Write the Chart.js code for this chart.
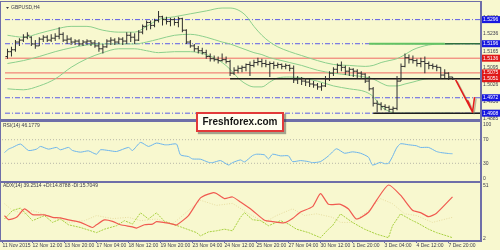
<!DOCTYPE html>
<html lang="en">
<head>
<meta charset="utf-8">
<title>GBPUSD,H4</title>
<script src="https://cdn.jsdelivr.net/npm/chart.js@4.4.1/dist/chart.umd.min.js"></script>
<style>
  html, body { margin: 0; padding: 0; background: #f8f8cf; }
  #panel { position: relative; width: 500px; height: 250px; overflow: hidden; background: #f8f8cf; }
  #panel canvas { position: absolute; left: 0; top: 0; }
  .edge { position: absolute; background: #6e6ea8; }
  #brand {
    position: absolute; left: 196px; top: 112px; width: 84px; height: 16px;
    border: 2px solid #e23a3a; background: #fffff0;
    box-shadow: 2px 2px 1px rgba(60, 60, 60, 0.45);
    font: bold 10px "Liberation Sans", Arial, sans-serif; color: #151515;
    text-align: center; line-height: 16px;
  }
</style>
</head>
<body>
<div id="panel">
  <canvas id="priceChart" width="500" height="250"></canvas>
  <canvas id="rsiChart" width="500" height="250"></canvas>
  <canvas id="adxChart" width="500" height="250"></canvas>
  <div class="edge" style="left:0;top:1px;width:482px;height:1px"></div>
  <div class="edge" style="left:0;top:1px;width:1px;height:241px"></div>
  <div class="edge" style="left:480px;top:1px;width:2px;height:241px"></div>
  <div class="edge" style="left:0;top:119px;width:482px;height:3px"></div>
  <div class="edge" style="left:0;top:181px;width:482px;height:2px"></div>
  <div class="edge" style="left:0;top:240px;width:482px;height:2px"></div>
  <div id="brand">Freshforex.com</div>
</div>
<script>
// --- Eje de tiempo (índice de vela H4) ---
const timeTickIdx = [-0.5, 7, 15, 23, 31, 39, 47, 55, 63, 71, 79, 87, 95, 103, 111];
const timeTickLabels = ["11 Nov 2015", "12 Nov 12:00", "13 Nov 20:00", "17 Nov 04:00", "18 Nov 12:00",
  "19 Nov 20:00", "23 Nov 04:00", "24 Nov 12:00", "25 Nov 20:00", "27 Nov 04:00", "30 Nov 12:00",
  "1 Dec 20:00", "3 Dec 04:00", "4 Dec 12:00", "7 Dec 20:00"];

// --- Velas OHLC ---
const opens = [1.5143,1.5163,1.5171,1.5203,1.5211,1.5223,1.5223,1.5195,1.5187,1.5215,
  1.5223,1.5211,1.5219,1.5227,1.5235,1.5211,1.5215,1.5203,1.5207,1.5195,
  1.5203,1.5207,1.5199,1.5187,1.5175,1.5183,1.5207,1.5211,1.5203,1.5215,
  1.5207,1.5231,1.5223,1.5211,1.5244,1.5268,1.5284,1.5272,1.5292,1.5308,
  1.5296,1.5288,1.5296,1.5284,1.5300,1.5252,1.5203,1.5187,1.5175,1.5167,
  1.5159,1.5143,1.5134,1.5130,1.5126,1.5130,1.5122,1.5074,1.5086,1.5094,
  1.5098,1.5110,1.5106,1.5118,1.5122,1.5114,1.5110,1.5114,1.5106,1.5110,
  1.5102,1.5106,1.5094,1.5046,1.5050,1.5041,1.5037,1.5029,1.5025,1.5017,
  1.5021,1.5050,1.5074,1.5090,1.5106,1.5098,1.5082,1.5090,1.5082,1.5074,
  1.5070,1.5041,1.5009,1.4949,1.4945,1.4936,1.4932,1.4924,1.4928,1.5041,
  1.5102,1.5138,1.5130,1.5126,1.5114,1.5122,1.5114,1.5106,1.5102,1.5098,
  1.5066,1.5074,1.5058];
const highs = [1.5175,1.5183,1.5211,1.5219,1.5235,1.5244,1.5227,1.5211,1.5223,1.5231,
  1.5231,1.5235,1.5239,1.5264,1.5244,1.5231,1.5223,1.5215,1.5215,1.5211,
  1.5215,1.5211,1.5211,1.5203,1.5195,1.5215,1.5223,1.5219,1.5223,1.5223,
  1.5244,1.5244,1.5239,1.5252,1.5276,1.5292,1.5292,1.5300,1.5332,1.5312,
  1.5308,1.5304,1.5304,1.5308,1.5304,1.5256,1.5211,1.5195,1.5187,1.5179,
  1.5171,1.5155,1.5147,1.5143,1.5155,1.5143,1.5130,1.5098,1.5106,1.5106,
  1.5114,1.5122,1.5130,1.5138,1.5134,1.5130,1.5122,1.5122,1.5118,1.5114,
  1.5114,1.5110,1.5106,1.5062,1.5058,1.5054,1.5050,1.5041,1.5033,1.5033,
  1.5062,1.5082,1.5098,1.5114,1.5122,1.5106,1.5098,1.5094,1.5090,1.5082,
  1.5074,1.5062,1.5017,1.4961,1.4953,1.4945,1.4940,1.4936,1.5062,1.5114,
  1.5155,1.5151,1.5147,1.5134,1.5138,1.5143,1.5122,1.5114,1.5110,1.5098,
  1.5090,1.5078,1.5058];
const lows = [1.5134,1.5143,1.5163,1.5187,1.5203,1.5215,1.5187,1.5175,1.5187,1.5203,
  1.5203,1.5203,1.5207,1.5215,1.5203,1.5195,1.5191,1.5191,1.5187,1.5187,
  1.5191,1.5187,1.5179,1.5163,1.5155,1.5179,1.5191,1.5191,1.5195,1.5191,
  1.5195,1.5203,1.5195,1.5207,1.5235,1.5252,1.5256,1.5264,1.5284,1.5272,
  1.5276,1.5268,1.5272,1.5264,1.5244,1.5195,1.5179,1.5163,1.5155,1.5151,
  1.5134,1.5122,1.5122,1.5114,1.5122,1.5114,1.5062,1.5066,1.5074,1.5078,
  1.5082,1.5062,1.5098,1.5106,1.5098,1.5098,1.5058,1.5090,1.5094,1.5090,
  1.5090,1.5082,1.5033,1.5029,1.5025,1.5021,1.5017,1.5013,1.5005,1.5001,
  1.5017,1.5041,1.5062,1.5074,1.5082,1.5066,1.5062,1.5058,1.5054,1.5050,
  1.5033,1.5001,1.4936,1.4912,1.4920,1.4920,1.4912,1.4908,1.4920,1.5041,
  1.5098,1.5114,1.5114,1.5102,1.5098,1.5074,1.5090,1.5090,1.5082,1.5050,
  1.5054,1.5046,1.5046];
const closes = [1.5163,1.5171,1.5203,1.5211,1.5223,1.5231,1.5195,1.5187,1.5215,1.5223,
  1.5211,1.5219,1.5227,1.5235,1.5211,1.5215,1.5203,1.5207,1.5195,1.5203,
  1.5207,1.5199,1.5187,1.5175,1.5183,1.5207,1.5211,1.5203,1.5215,1.5207,
  1.5231,1.5223,1.5211,1.5244,1.5268,1.5284,1.5272,1.5292,1.5308,1.5296,
  1.5288,1.5296,1.5284,1.5300,1.5252,1.5203,1.5187,1.5175,1.5167,1.5159,
  1.5143,1.5134,1.5130,1.5126,1.5130,1.5122,1.5074,1.5086,1.5094,1.5098,
  1.5110,1.5106,1.5118,1.5122,1.5114,1.5110,1.5114,1.5106,1.5110,1.5102,
  1.5106,1.5094,1.5046,1.5050,1.5041,1.5037,1.5029,1.5025,1.5017,1.5021,
  1.5050,1.5074,1.5090,1.5106,1.5098,1.5082,1.5090,1.5082,1.5074,1.5070,
  1.5041,1.5009,1.4949,1.4945,1.4936,1.4932,1.4924,1.4928,1.5041,1.5102,
  1.5138,1.5130,1.5126,1.5114,1.5122,1.5114,1.5106,1.5102,1.5098,1.5066,
  1.5074,1.5058,1.5050];

// --- Bandas de Bollinger (leídas cada pocas velas) ---
const bbIdx = [0,4,8,12,16,20,24,28,32,35,38,42,46,50,54,56,58,60,62,64,66,68,71,74,78,82,86,90,92,94,96,98,100,102,104,106,109,112];
const bbUpper = [1.5231,1.5223,1.5239,1.5256,1.5268,1.5268,1.5252,1.5244,1.5244,1.5268,
  1.5296,1.5308,1.5320,1.5332,1.5344,1.5344,1.5336,1.5312,1.5268,1.5231,
  1.5203,1.5183,1.5163,1.5147,1.5126,1.5110,1.5106,1.5102,1.5106,1.5118,
  1.5126,1.5134,1.5151,1.5171,1.5183,1.5191,1.5195,1.5195];
const bbMiddle = [1.5114,1.5126,1.5143,1.5163,1.5179,1.5191,1.5195,1.5195,1.5195,1.5203,
  1.5215,1.5231,1.5235,1.5223,1.5203,1.5195,1.5183,1.5171,1.5159,1.5151,
  1.5138,1.5130,1.5118,1.5106,1.5086,1.5074,1.5066,1.5058,1.5050,1.5033,
  1.5021,1.5021,1.5029,1.5037,1.5046,1.5051,1.5051,1.5051];
const bbLower = [1.5009,1.5005,1.5021,1.5050,1.5098,1.5134,1.5159,1.5175,1.5175,1.5167,
  1.5159,1.5163,1.5163,1.5151,1.5118,1.5090,1.5054,1.5029,1.5017,1.5017,
  1.5037,1.5054,1.5058,1.5054,1.5041,1.5021,1.5009,1.4997,1.4977,1.4936,
  1.4916,1.4908,1.4908,1.4908,1.4908,1.4908,1.4908,1.4908];

// --- Niveles y escala de precio ---
const priceTicks = [1.5306, 1.5236, 1.5165, 1.5095, 1.5026, 1.4956, 1.4885];
const blueLevels = [1.5296, 1.5196, 1.4972, 1.4908];
const redLevels = [1.5136, 1.5075, 1.5051];
const blackLevels = [1.5051, 1.4908];
const blackFrom = [56, 92];
const greenLevel = 1.5196;
const greenFrom = 91;
const greenTo = 110;
const arrowFrom = [112.75, 1.5046];
const arrowTo = [117, 1.4912];

// --- RSI(14) ---
const rsiIdx = [0,1,2,4,6,8,9,11,13,14,16,17,19,21,23,24,26,28,31,32,34,36,38,40,41,43,44,46,47,49,
  51,52,54,56,57,59,60,62,63,65,66,67,69,71,72,74,76,77,79,81,83,85,87,89,91,92,94,95,96,97,
  98,99,101,103,104,106,108,109,111,112];
const rsiVal = [48.3,54,56.9,62.6,51.7,54,58.6,54,56.9,52.9,56.9,51.7,48.9,51.1,45.4,52.9,51.7,50,56.9,51.7,
  65.4,58.6,64.3,61.4,61.4,62.6,44.3,41.4,37.4,36.9,31.7,31.1,34.6,27.1,31.1,35.7,32.3,43.1,45.4,44.3,
  37.4,45.4,42.6,42.6,32.9,34.6,32.9,31.1,32.9,42.6,54.6,47.1,49.4,47.1,40.3,27.1,31.7,29.4,30,41.4,
  55.7,63.1,61.4,59.7,56.9,56.9,50,48.3,46.6,46.2];
const rsiLevels = [70, 30];
const rsiTicks = [100, 70, 30, 0];

// --- ADX(14) ---
const adxIdx = [0,1,3,5,7,10,12,14,16,19,22,23,25,27,29,32,33,35,37,38,40,42,43,46,49,52,53,55,57,59,
  62,65,67,70,72,74,77,79,81,84,86,88,91,93,96,99,102,104,106,108,112];
const adxVal = [23.5,20,22,29.2,24.3,24.1,22,21.5,19.8,17.7,13.4,15.7,19.8,18.6,15.7,14,12.9,15.7,16.3,18.3,
  17.5,16.3,15.5,23.5,38.4,42.7,42.1,37.8,39.2,34.9,27.8,19.5,18.4,17.4,21,26.5,31,42.1,33,33,
  29,20.6,26.3,36.4,49.3,40.7,28,26,22.6,25.5,39.3];
const pdiIdx = [0,2,4,7,10,12,14,16,19,23,25,28,30,32,34,36,38,40,42,44,48,49,51,53,55,57,59,60,62,64,
  66,69,71,73,76,79,81,82,84,87,90,93,96,97,99,102,103,106,108,112];
const pdiVal = [20.6,27.8,29.8,19.2,23.5,17.7,20.6,15.7,13.4,9.1,12,14.9,19.2,16.3,25.8,20.6,25.8,18.6,16.3,14,
  9.1,6.3,9.7,10.6,12,10.6,22,26,20,19.2,14.9,19.2,16.3,12,9.1,4.8,12,14.9,24.9,17.7,
  12,7.8,4.8,14.9,24.9,19.2,17.7,12,9.1,4.8];
const mdiIdx = [0,2,5,7,12,16,20,23,27,31,34,38,42,46,49,53,57,61,65,68,72,75,78,82,84,87,91,94,97,100,103,107,112];
const mdiVal = [33.5,27.8,25,27.8,22,17.7,19.2,23.5,20.9,22,19.2,20.6,16.3,27.8,36.4,32.1,33.8,25.2,17.7,23.5,
  29.2,23.5,25,22,17.7,17.7,27.8,37.8,33.5,25,23.5,17.7,22];
const adxTicks = [51, 2];

// Rango del eje X compartido por los tres paneles
const X_MIN = -0.625;
const X_MAX = 118.875;

Chart.defaults.font.family = "'Liberation Sans', Arial, sans-serif";
const AXIS_TEXT = "#3c3c4c";

const toPoints = (xs, ys) => xs.map((x, k) => ({ x: x, y: ys[k] }));

function lineSet(points, color, width, dash, order, extra) {
  return Object.assign({
    type: "line", data: points, borderColor: color, borderWidth: width,
    borderDash: dash || [], pointRadius: 0, fill: false, order: order,
  }, extra || {});
}

function levelColor(v) {
  if (blueLevels.includes(v)) return "#1818e0";
  if (redLevels.includes(v)) return "#e01818";
  return null;
}

/**Texto del panel arriba a la izquierda*/
const panelLabel = {
  id: "panelLabel",
  afterDraw(chart, args, opts) {
    const { ctx, chartArea } = chart;
    ctx.save();
    ctx.font = "5px 'Liberation Sans', Arial, sans-serif";
    ctx.fillStyle = "#3a3a4a";
    ctx.textBaseline = "middle";
    ctx.fillText(opts.text, chartArea.left + opts.dx, chartArea.top + opts.dy);
    if (opts.marker) {
      ctx.beginPath();
      ctx.moveTo(chartArea.left + 1, chartArea.top + 2);
      ctx.lineTo(chartArea.left + 4, chartArea.top + 2);
      ctx.lineTo(chartArea.left + 2.5, chartArea.top + 4);
      ctx.closePath();
      ctx.fill();
    }
    ctx.restore();
  },
};

/**En las subventanas el valor máximo y mínimo se escriben hacia dentro (como MT4)*/
const insetEdgeLabels = {
  id: "insetEdgeLabels",
  beforeDraw(chart) {
    const scale = chart.scales.y;
    scale.getLabelItems(chart.chartArea).forEach((item) => {
      const v = Number(item.label);
      if (v === scale.max) item.options.textBaseline = "top";
      if (v === scale.min) item.options.textBaseline = "bottom";
    });
  },
};

/**Flecha roja de proyección*/
const trendArrow = {
  id: "trendArrow",
  afterDatasetsDraw(chart) {
    const { ctx, scales } = chart;
    const x1 = scales.x.getPixelForValue(arrowFrom[0]);
    const y1 = scales.y.getPixelForValue(arrowFrom[1]);
    const x2 = scales.x.getPixelForValue(arrowTo[0]);
    const y2 = scales.y.getPixelForValue(arrowTo[1]);
    const draw = (dx, dy, color) => {
      ctx.strokeStyle = color;
      ctx.beginPath();
      ctx.moveTo(x1 + dx, y1 + dy);
      ctx.lineTo(x2 + dx, y2 + dy);
      ctx.moveTo(x2 - 5 + dx, y2 - 12 + dy);
      ctx.lineTo(x2 + dx, y2 + dy);
      ctx.lineTo(x2 + 2 + dx, y2 - 15 + dy);
      ctx.stroke();
    };
    ctx.save();
    ctx.lineWidth = 1.5;
    ctx.lineJoin = "round";
    draw(1.5, 1.5, "rgba(110,110,80,0.45)");
    draw(0, 0, "#e41c1c");
    ctx.restore();
  },
};

function baseOptions(padding, label) {
  return {
    responsive: false,
    animation: false,
    events: [],
    devicePixelRatio: 1,
    layout: { padding: padding },
    plugins: { legend: { display: false }, tooltip: { enabled: false }, panelLabel: label },
  };
}

function fixRightAxis(scale) {
  scale.width = 20;
  scale.paddingTop = 0;
  scale.paddingBottom = 0;
}

// ===== Panel de precio =====
const priceSets = [
  ...blueLevels.map((p) => lineSet([{ x: X_MIN, y: p }, { x: X_MAX, y: p }], "#5c5ce6", 1, [5, 2, 1, 2], 6)),
  ...redLevels.map((p) => lineSet([{ x: X_MIN, y: p }, { x: X_MAX, y: p }], "#f06a64", 1, null, 5)),
  lineSet(toPoints(bbIdx, bbUpper), "#8ccf8c", 1, null, 3, { cubicInterpolationMode: "monotone" }),
  lineSet(toPoints(bbIdx, bbMiddle), "#8ccf8c", 1, null, 3, { cubicInterpolationMode: "monotone" }),
  lineSet(toPoints(bbIdx, bbLower), "#8ccf8c", 1, null, 3, { cubicInterpolationMode: "monotone" }),
  ...blackLevels.map((p, k) => lineSet([{ x: blackFrom[k], y: p }, { x: X_MAX, y: p }], "#1e1e1e", 1.5, null, 2)),
  lineSet([{ x: greenFrom, y: greenLevel }, { x: greenTo, y: greenLevel }], "#62c262", 2, null, 2),
  lineSet([{ x: greenTo, y: greenLevel }, { x: X_MAX, y: greenLevel }], "#2f6f3f", 1.5, null, 2),
  {
    type: "bar",
    data: highs.map((h, i) => ({ x: i, y: [lows[i], h] })),
    backgroundColor: "#2f2f2f",
    barThickness: 1,
    inflateAmount: 0,
    grouped: false,
    order: 1,
  },
  lineSet(opens.map((o, i) => ({ x: i - 0.25, y: o })), "#2f2f2f", 0, null, 1, {
    showLine: false, pointStyle: "line", pointRadius: 1, pointBorderWidth: 1, pointBorderColor: "#2f2f2f",
  }),
  lineSet(closes.map((c, i) => ({ x: i + 0.25, y: c })), "#2f2f2f", 0, null, 1, {
    showLine: false, pointStyle: "line", pointRadius: 1, pointBorderWidth: 1, pointBorderColor: "#2f2f2f",
  }),
];

new Chart(document.getElementById("priceChart"), {
  type: "line",
  data: { datasets: priceSets },
  options: Object.assign(baseOptions({ left: 2, top: 2, right: 0, bottom: 130 },
    { text: "GBPUSD,H4", dx: 6, dy: 3, marker: true }), {
    scales: {
      x: { type: "linear", min: X_MIN, max: X_MAX, offset: false, display: false },
      y: {
        position: "right",
        min: 1.48797,
        max: 1.53566,
        afterFit: fixRightAxis,
        afterBuildTicks(scale) {
          scale.ticks = [...priceTicks, ...blueLevels, ...redLevels].map((v) => ({ value: v }));
        },
        grid: { display: false, drawTicks: false },
        border: { display: false },
        ticks: {
          autoSkip: false,
          padding: 3,
          font: { size: 5, lineHeight: 1 },
          callback: (v) => Number(v).toFixed(4),
          color: (c) => (c.tick && levelColor(c.tick.value) ? "#ffffff" : AXIS_TEXT),
          showLabelBackdrop: (c) => !!(c.tick && levelColor(c.tick.value)),
          backdropColor: (c) => (c.tick && levelColor(c.tick.value)) || "rgba(0,0,0,0)",
          backdropPadding: { left: 1, right: 2, top: 1, bottom: 1 },
        },
      },
    },
  }),
  plugins: [panelLabel, trendArrow],
});

// ===== Panel RSI =====
new Chart(document.getElementById("rsiChart"), {
  type: "line",
  data: {
    datasets: [
      ...rsiLevels.map((v) => lineSet([{ x: X_MIN, y: v }, { x: X_MAX, y: v }], "#b8b8a8", 1, [1, 2], 3)),
      lineSet(toPoints(rsiIdx, rsiVal), "#6cb4ec", 1, null, 1, { tension: 0.2 }),
    ],
  },
  options: Object.assign(baseOptions({ left: 2, top: 122, right: 0, bottom: 69 },
    { text: "RSI(14) 46.1779", dx: 1, dy: 3.5 }), {
    scales: {
      x: { type: "linear", min: X_MIN, max: X_MAX, offset: false, display: false },
      y: {
        position: "right",
        min: 0,
        max: 100,
        afterFit: fixRightAxis,
        afterBuildTicks(scale) {
          scale.ticks = rsiTicks.map((v) => ({ value: v }));
        },
        grid: { display: false, drawTicks: false },
        border: { display: false },
        ticks: { autoSkip: false, padding: 3, color: AXIS_TEXT, font: { size: 5, lineHeight: 1 } },
      },
    },
  }),
  plugins: [panelLabel, insetEdgeLabels],
});

// ===== Panel ADX =====
new Chart(document.getElementById("adxChart"), {
  type: "line",
  data: {
    datasets: [
      lineSet(toPoints(mdiIdx, mdiVal), "#e6dca0", 1, [1, 1.5], 3),
      lineSet(toPoints(pdiIdx, pdiVal), "#a8d040", 1, [2, 1], 2),
      lineSet(toPoints(adxIdx, adxVal), "#f05a50", 1.2, null, 1, { tension: 0.2 }),
    ],
  },
  options: Object.assign(baseOptions({ left: 2, top: 183, right: 0, bottom: 0 },
    { text: "ADX(14) 39.2514 +DI:14.8788 -DI:15.7049", dx: 1, dy: 3 }), {
    scales: {
      x: {
        type: "linear",
        min: X_MIN,
        max: X_MAX,
        offset: false,
        afterFit(scale) {
          scale.height = 9;
          scale.paddingLeft = 0;
          scale.paddingRight = 0;
        },
        afterBuildTicks(scale) {
          scale.ticks = timeTickIdx.map((v) => ({ value: v }));
        },
        grid: { display: true, drawOnChartArea: false, drawTicks: true, tickLength: 2, color: "#6e6ea8" },
        border: { display: false },
        ticks: {
          autoSkip: false,
          maxRotation: 0,
          minRotation: 0,
          align: "start",
          padding: 0,
          color: AXIS_TEXT,
          font: { size: 5, lineHeight: 1 },
          callback: (v, i) => timeTickLabels[i],
        },
      },
      y: {
        position: "right",
        min: 2,
        max: 51,
        afterFit: fixRightAxis,
        afterBuildTicks(scale) {
          scale.ticks = adxTicks.map((v) => ({ value: v }));
        },
        grid: { display: false, drawTicks: false },
        border: { display: false },
        ticks: { autoSkip: false, padding: 3, color: AXIS_TEXT, font: { size: 5, lineHeight: 1 } },
      },
    },
  }),
  plugins: [panelLabel, insetEdgeLabels],
});
</script>
</body>
</html>
